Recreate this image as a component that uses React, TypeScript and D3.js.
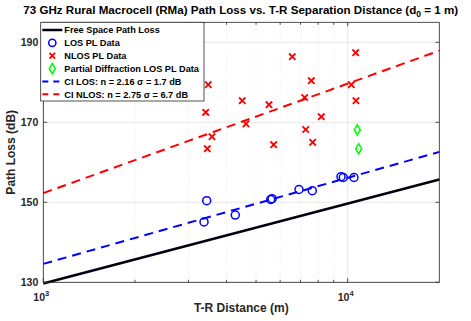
import React, { useRef, useEffect } from 'react';
import * as d3 from 'd3';

// LOS measurements (T-R distance in m, path loss in dB)
const losDist = [3442, 3373, 4273, 5585, 5645, 6918, 7651, 9506, 9672, 10488];
const losPL = [150.4, 145.1, 146.8, 150.7, 150.9, 153.2, 152.9, 156.4, 156.2, 156.2];

// NLOS measurements
const nlosDist = [6577, 10624, 3483, 7594, 10276, 4505, 5513, 7224, 10648, 3416, 8189, 4634, 3583, 7278, 3458, 5713, 7674];
const nlosPL = [186.4, 187.4, 179.4, 180.4, 179.4, 175.4, 174.4, 176.2, 175.4, 172.5, 171.4, 169.6, 166.4, 168.2, 163.4, 164.4, 165.0];

// partial diffraction LOS
const diffDist = [10752, 10866];
const diffPL = [168.1, 163.4];

// model lines, end points over the plotted range
const lineDist = [1000, 20000];
const fsplPL = [129.7, 155.7];
const ciLosPL = [134.6, 162.6];
const ciNlosPL = [152.3, 187.9];

const yTicks = [130, 150, 170, 190];
const xMajor = [1000, 10000];
const xMinor = [2000, 3000, 4000, 5000, 6000, 7000, 8000, 9000];

const legendLabels = [
  "Free Space Path Loss",
  "LOS PL Data",
  "NLOS PL Data",
  "Partial Diffraction LOS PL Data",
  "CI LOS: n = 2.16 \u03c3 = 1.7 dB",
  "CI NLOS: n = 2.75 \u03c3 = 6.7 dB",
];

const blue = "#0000ff";
const red = "#ff0000";
const green = "#00ff00";
const ink = "#262626";
const font = "'Liberation Sans', Arial, Helvetica, sans-serif";

function App() {
  const svgRef = useRef<SVGSVGElement>(null);

  useEffect(() => {
    document.body.style.margin = "0";
    const width = 471;
    const height = 321;
    const marginLeft = 43.3;
    const marginRight = 31.7;
    const marginTop = 22.3;
    const marginBottom = 38.7;

    const x = d3.scaleLog()
      .domain([1000, 20000])
      .range([marginLeft, width - marginRight]);
    const y = d3.scaleLinear()
      .domain([130, 195])
      .range([height - marginBottom, marginTop]);

    const svg = d3.select(svgRef.current);
    svg.selectAll("*").remove();
    svg.attr("width", width).attr("height", height)
      .style("font-family", font);

    const x0 = x.range()[0], x1 = x.range()[1];
    const y0 = y.range()[0], y1 = y.range()[1];

    svg.append("rect")
      .attr("x", x0).attr("y", y1)
      .attr("width", x1 - x0).attr("height", y0 - y1)
      .attr("fill", "white");

    // grid
    const grid = svg.append("g");
    grid.selectAll(".minor")
      .data(xMinor)
      .join("line")
      .attr("x1", d => x(d)).attr("x2", d => x(d))
      .attr("y1", y0).attr("y2", y1)
      .attr("stroke", "#dcdcdc")
      .attr("stroke-width", 0.6)
      .attr("stroke-dasharray", "1,2");
    grid.selectAll(".xmaj")
      .data(xMajor)
      .join("line")
      .attr("x1", d => x(d)).attr("x2", d => x(d))
      .attr("y1", y0).attr("y2", y1)
      .attr("stroke", "#e3e3e3")
      .attr("stroke-width", 0.8);
    grid.selectAll(".ymaj")
      .data(yTicks)
      .join("line")
      .attr("x1", x0).attr("x2", x1)
      .attr("y1", d => y(d)).attr("y2", d => y(d))
      .attr("stroke", "#e3e3e3")
      .attr("stroke-width", 0.8);

    // model lines
    const line = d3.line<number>()
      .x((d, i) => x(lineDist[i]))
      .y(d => y(d));

    svg.append("path")
      .attr("d", line(fsplPL))
      .attr("fill", "none")
      .attr("stroke", "#000010")
      .attr("stroke-width", 2.5);
    svg.append("path")
      .attr("d", line(ciLosPL))
      .attr("fill", "none")
      .attr("stroke", blue)
      .attr("stroke-width", 2)
      .attr("stroke-dasharray", "9,6");
    svg.append("path")
      .attr("d", line(ciNlosPL))
      .attr("fill", "none")
      .attr("stroke", red)
      .attr("stroke-width", 2)
      .attr("stroke-dasharray", "9,6");

    // markers
    const cross = (g, cx, cy, s) => {
      g.append("path")
        .attr("d", `M${cx - s},${cy - s}L${cx + s},${cy + s}M${cx - s},${cy + s}L${cx + s},${cy - s}`)
        .attr("stroke", red)
        .attr("stroke-width", 1.8)
        .attr("fill", "none");
    };
    const diamond = (g, cx, cy) => {
      g.append("path")
        .attr("d", `M${cx},${cy - 5}L${cx + 3},${cy}L${cx},${cy + 5}L${cx - 3},${cy}Z`)
        .attr("stroke", green)
        .attr("stroke-width", 1.6)
        .attr("fill", "none");
    };

    const marks = svg.append("g");
    losDist.forEach((d, i) => {
      marks.append("circle")
        .attr("cx", x(d)).attr("cy", y(losPL[i]))
        .attr("r", 4)
        .attr("fill", "none")
        .attr("stroke", blue)
        .attr("stroke-width", 1.5);
    });
    nlosDist.forEach((d, i) => cross(marks, x(d), y(nlosPL[i]), 3.2));
    diffDist.forEach((d, i) => diamond(marks, x(d), y(diffPL[i])));

    // axes box and ticks
    const axes = svg.append("g").attr("stroke", ink).attr("stroke-width", 0.8);
    axes.append("rect")
      .attr("x", x0).attr("y", y1)
      .attr("width", x1 - x0).attr("height", y0 - y1)
      .attr("fill", "none");
    const allX = [...xMajor, ...xMinor];
    allX.forEach(d => {
      const len = xMajor.includes(d) ? 4 : 2.5;
      axes.append("line").attr("x1", x(d)).attr("x2", x(d)).attr("y1", y0).attr("y2", y0 - len);
      axes.append("line").attr("x1", x(d)).attr("x2", x(d)).attr("y1", y1).attr("y2", y1 + len);
    });
    yTicks.forEach(d => {
      axes.append("line").attr("x1", x0).attr("x2", x0 + 4).attr("y1", y(d)).attr("y2", y(d));
      axes.append("line").attr("x1", x1).attr("x2", x1 - 4).attr("y1", y(d)).attr("y2", y(d));
    });

    // tick labels
    svg.append("g")
      .selectAll("text")
      .data(yTicks)
      .join("text")
      .attr("x", x0 - 5)
      .attr("y", d => y(d) + 4)
      .attr("text-anchor", "end")
      .attr("font-size", "10.5px")
      .attr("font-weight", "bold")
      .attr("fill", ink)
      .text(d => d);

    const xl = svg.append("g")
      .selectAll("text")
      .data(xMajor)
      .join("text")
      .attr("x", d => x(d) - 2)
      .attr("y", y0 + 19)
      .attr("text-anchor", "middle")
      .attr("font-size", "10.5px")
      .attr("font-weight", "bold")
      .attr("fill", ink);
    xl.append("tspan").text("10");
    xl.append("tspan")
      .attr("dy", -5)
      .attr("font-size", "7.5px")
      .text(d => Math.round(Math.log10(d)));

    // axis titles
    svg.append("text")
      .attr("x", (x0 + x1) / 2)
      .attr("y", 312)
      .attr("text-anchor", "middle")
      .attr("font-size", "12px")
      .attr("font-weight", "bold")
      .attr("fill", ink)
      .text("T-R Distance (m)");

    svg.append("text")
      .attr("transform", `translate(15,${(y0 + y1) / 2}) rotate(-90)`)
      .attr("text-anchor", "middle")
      .attr("font-size", "12px")
      .attr("font-weight", "bold")
      .attr("fill", ink)
      .text("Path Loss (dB)");

    const title = svg.append("text")
      .attr("x", 240.7)
      .attr("y", 14)
      .attr("text-anchor", "middle")
      .attr("font-size", "11.6px")
      .attr("font-weight", "bold")
      .attr("fill", "#000");
    title.append("tspan").text("73 GHz Rural Macrocell (RMa) Path Loss vs. T-R Separation Distance (d");
    title.append("tspan").attr("dy", 3).attr("font-size", "8.5px").text("0");
    title.append("tspan").attr("dy", -3).text(" = 1 m)");

    // legend
    const legend = svg.append("g");
    legend.append("rect")
      .attr("x", 40.7).attr("y", 22.3)
      .attr("width", 163.3).attr("height", 78.7)
      .attr("fill", "white")
      .attr("stroke", ink)
      .attr("stroke-width", 0.8);

    const ly = d3.scaleLinear().domain([0, 5]).range([30, 94.3]);
    const lx0 = 42.3, lx1 = 62.3, lmid = 52.3;

    legend.append("line")
      .attr("x1", lx0).attr("x2", lx1).attr("y1", ly(0)).attr("y2", ly(0))
      .attr("stroke", "#000010").attr("stroke-width", 2.5);
    legend.append("circle")
      .attr("cx", lmid).attr("cy", ly(1)).attr("r", 3.6)
      .attr("fill", "none").attr("stroke", blue).attr("stroke-width", 1.5);
    cross(legend, lmid, ly(2), 2.8);
    diamond(legend, lmid, ly(3));
    legend.append("line")
      .attr("x1", lx0).attr("x2", lx1).attr("y1", ly(4)).attr("y2", ly(4))
      .attr("stroke", blue).attr("stroke-width", 2).attr("stroke-dasharray", "6,5");
    legend.append("line")
      .attr("x1", lx0).attr("x2", lx1).attr("y1", ly(5)).attr("y2", ly(5))
      .attr("stroke", red).attr("stroke-width", 2).attr("stroke-dasharray", "6,5");

    legend.selectAll(".lbl")
      .data(legendLabels)
      .join("text")
      .attr("x", 64.3)
      .attr("y", (d, i) => ly(i) + 3.2)
      .attr("font-size", "9.2px")
      .attr("font-weight", "bold")
      .attr("fill", "#000")
      .text(d => d);
  }, []);

  return <svg ref={svgRef} style={{ display: "block" }}></svg>;
}

export default App;
